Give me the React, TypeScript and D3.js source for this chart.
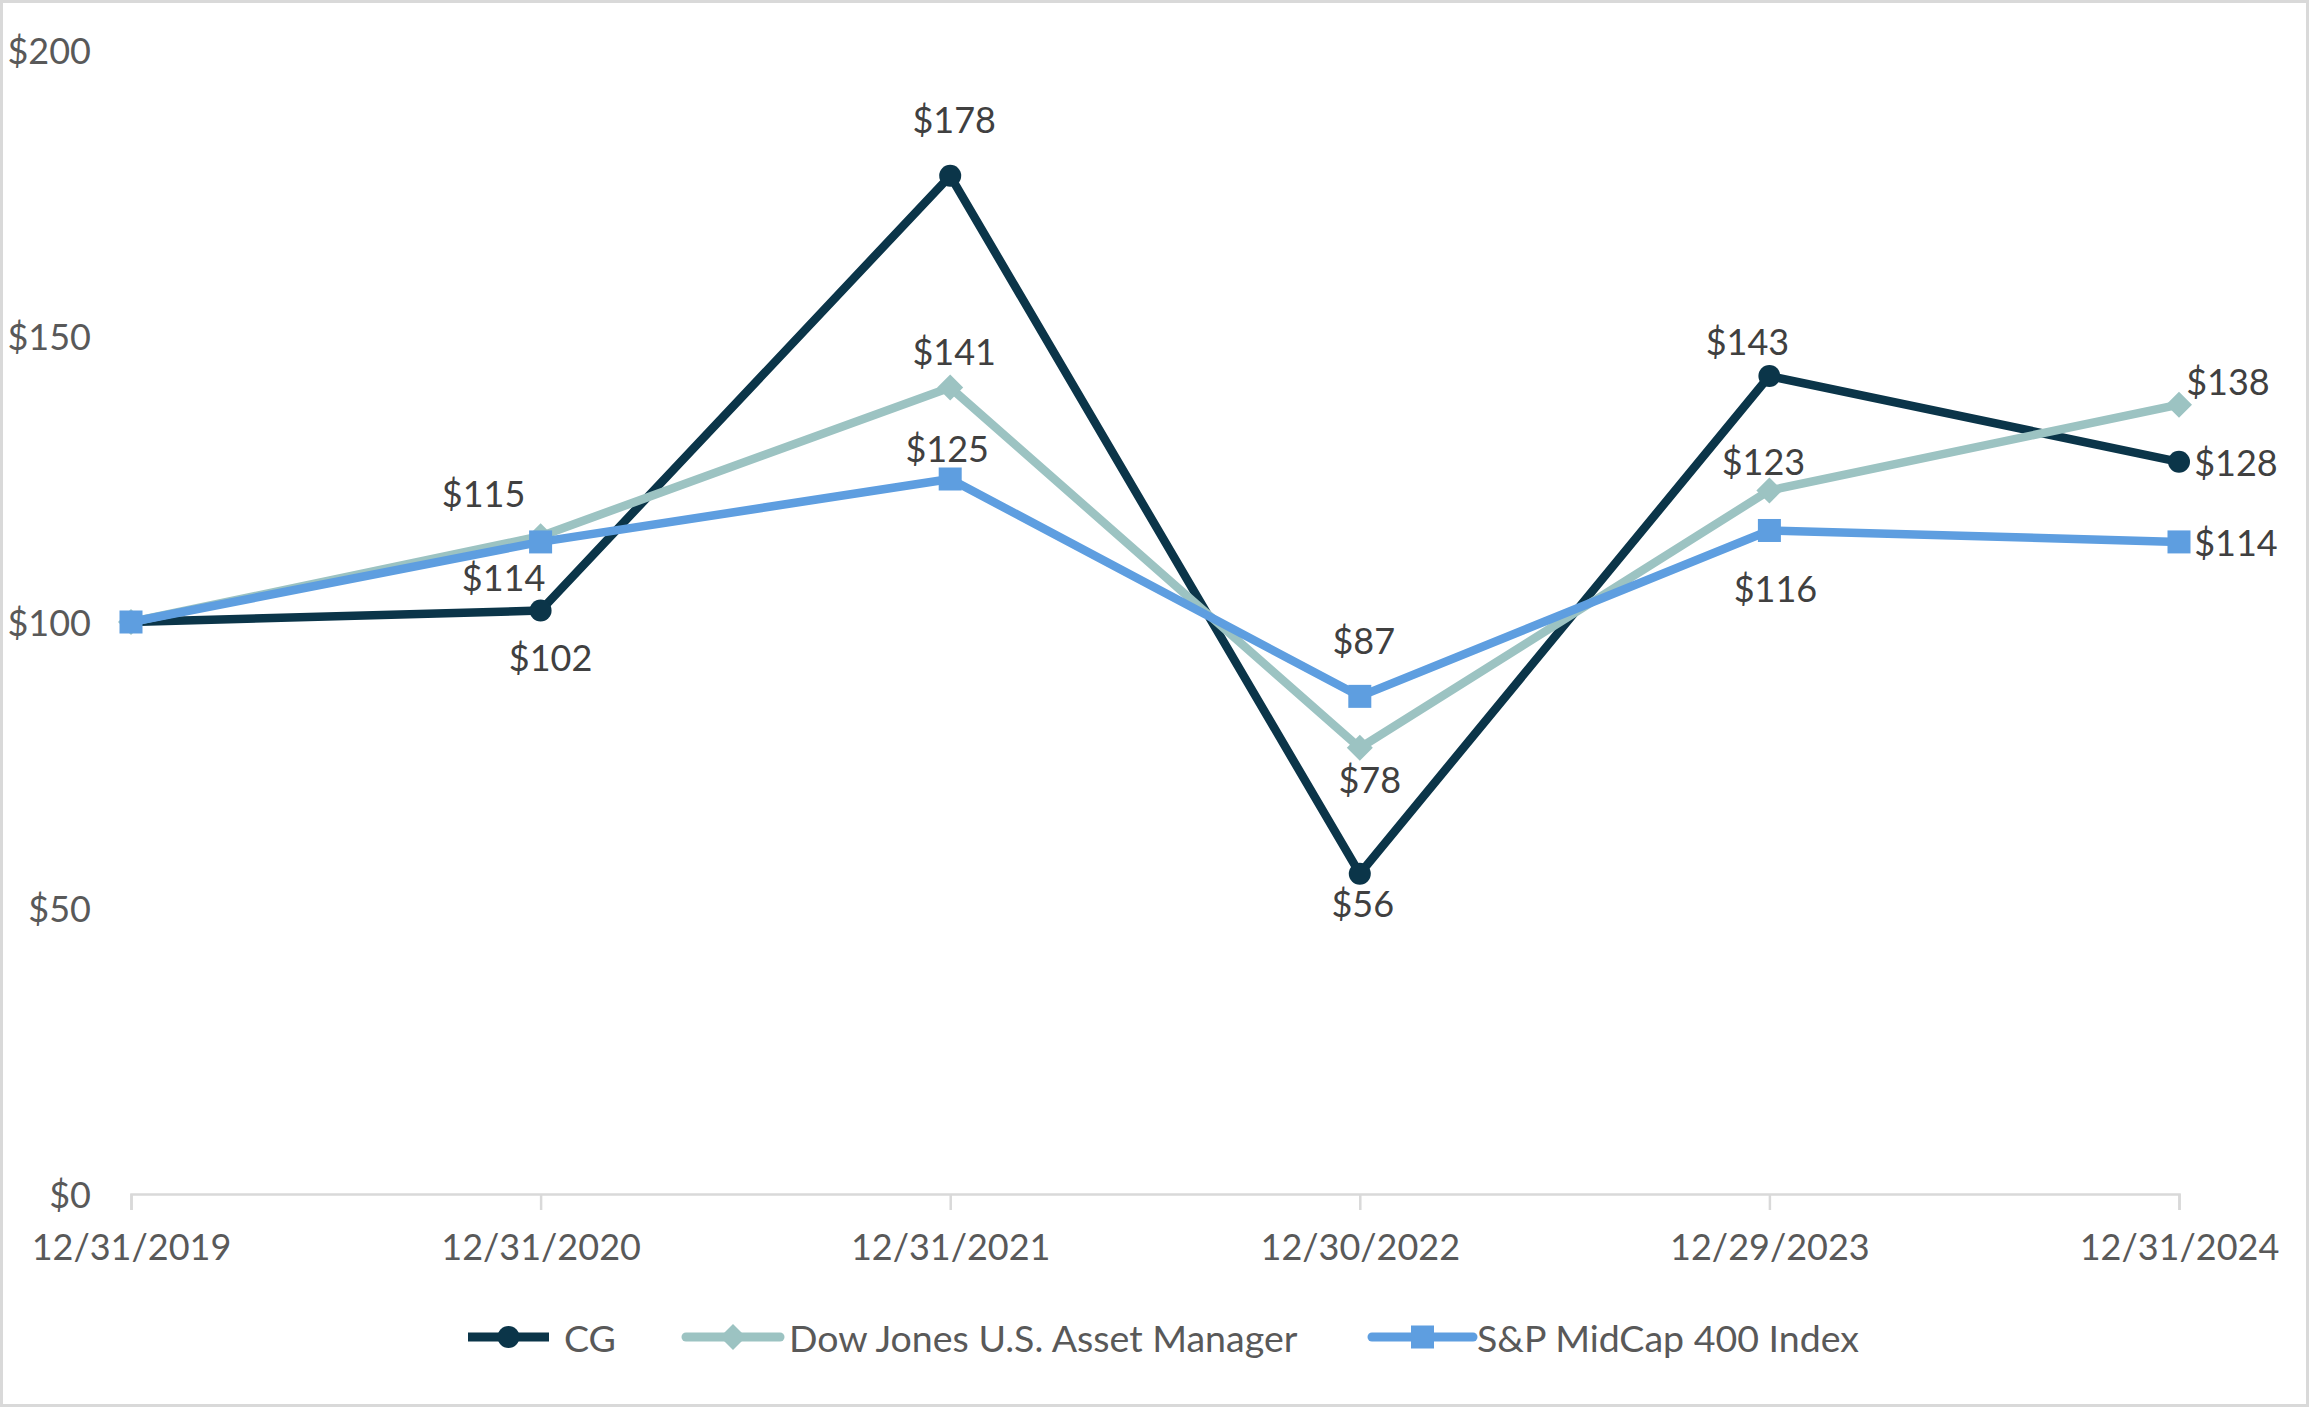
import React, { useEffect, useRef } from 'react';
import * as d3 from 'd3';

// Cumulative value of a $100 investment
const dates = ['12/31/2019', '12/31/2020', '12/31/2021', '12/30/2022', '12/29/2023', '12/31/2024'];
const cgValues = [100, 102, 178, 56, 143, 128];
const dowJonesValues = [100, 115, 141, 78, 123, 138];
const midCapValues = [100, 114, 125, 87, 116, 114];
const yTicks = [0, 50, 100, 150, 200];

// label nudges (px from the point), null = no label
const cgLabelNudge: ([number, number] | null)[] = [null, [10, 46], [4, -57], [3, 29], [-22, -35], [57, 0]];
const dowLabelNudge: ([number, number] | null)[] = [null, [-57, -43], [4, -36], [10, 31], [-6, -29], [49, -24]];
const midLabelNudge: ([number, number] | null)[] = [null, [-37, 35], [-3, -31], [4, -56], [6, 58], [57, 0]];

const W = 2309;
const H = 1407;
const FONT = 'Lato, "Open Sans", sans-serif';
const TEXT = '#595959';
const LABEL = '#404040';

const series = [
  { name: 'CG', values: cgValues, color: '#0B3549', marker: 'circle', nudge: cgLabelNudge },
  { name: 'Dow Jones U.S. Asset Manager', values: dowJonesValues, color: '#9CC3C2', marker: 'diamond', nudge: dowLabelNudge },
  { name: 'S&P MidCap 400 Index', values: midCapValues, color: '#5E9EE0', marker: 'square', nudge: midLabelNudge },
];

const App: React.FC = () => {
  const svgRef = useRef<SVGSVGElement>(null);

  useEffect(() => {
    document.body.style.margin = '0';
    if (!svgRef.current) return;
    const svg = d3.select(svgRef.current);
    svg.selectAll('*').remove();

    const x = d3.scalePoint<string>().domain(dates).range([131, 2179]);
    const y = d3.scaleLinear().domain([0, 200]).range([1194, 50]);

    // background + border
    svg.append('rect')
      .attr('x', 1.5).attr('y', 1.5)
      .attr('width', W - 3).attr('height', H - 3)
      .attr('fill', '#fff')
      .attr('stroke', '#d9d9d9')
      .attr('stroke-width', 3);

    // y tick labels (no gridlines)
    svg.append('g')
      .selectAll('text')
      .data(yTicks)
      .join('text')
      .attr('x', 91)
      .attr('y', d => y(d))
      .attr('text-anchor', 'end')
      .attr('dominant-baseline', 'central')
      .attr('font-family', FONT)
      .attr('font-size', 36)
      .attr('fill', TEXT)
      .text(d => `$${d}`);

    // x axis
    const xAxis = svg.append('g')
      .attr('transform', `translate(0,${y(0)})`)
      .call(d3.axisBottom(x).tickSize(16).tickPadding(24));
    xAxis.select('.domain').attr('stroke', '#d9d9d9').attr('stroke-width', 2.5);
    xAxis.selectAll('.tick line').attr('stroke', '#d9d9d9').attr('stroke-width', 2.5);
    xAxis.selectAll('.tick text')
      .attr('font-family', FONT)
      .attr('font-size', 36)
      .attr('fill', TEXT);

    const line = d3.line<number>()
      .x((_, i) => x(dates[i]) as number)
      .y(d => y(d));

    const drawMarker = (g: d3.Selection<SVGGElement, unknown, null, undefined>, type: string, cx: number, cy: number, color: string) => {
      if (type === 'circle') {
        g.append('circle').attr('cx', cx).attr('cy', cy).attr('r', 11).attr('fill', color);
      } else if (type === 'diamond') {
        g.append('path')
          .attr('d', `M${cx},${cy - 13} L${cx + 13},${cy} L${cx},${cy + 13} L${cx - 13},${cy} Z`)
          .attr('fill', color);
      } else {
        g.append('rect').attr('x', cx - 11.5).attr('y', cy - 11.5).attr('width', 23).attr('height', 23).attr('fill', color);
      }
    };

    series.forEach(s => {
      const g = svg.append('g');
      g.append('path')
        .datum(s.values)
        .attr('fill', 'none')
        .attr('stroke', s.color)
        .attr('stroke-width', 8.5)
        .attr('stroke-linejoin', 'round')
        .attr('d', line);
      s.values.forEach((v, i) => drawMarker(g, s.marker, x(dates[i]) as number, y(v), s.color));
    });

    // data labels
    series.forEach(s => {
      s.values.forEach((v, i) => {
        const n = s.nudge[i];
        if (!n) return;
        svg.append('text')
          .attr('x', (x(dates[i]) as number) + n[0])
          .attr('y', y(v) + n[1])
          .attr('text-anchor', 'middle')
          .attr('dominant-baseline', 'central')
          .attr('font-family', FONT)
          .attr('font-size', 36)
          .attr('fill', LABEL)
          .text(`$${v}`);
      });
    });

    // legend
    const legendY = 1337;
    const legendItems = [
      { x1: 468, x2: 549, tx: 564 },
      { x1: 686, x2: 780, tx: 789 },
      { x1: 1372, x2: 1473, tx: 1477 },
    ];
    series.forEach((s, i) => {
      const it = legendItems[i];
      const g = svg.append('g');
      g.append('line')
        .attr('x1', it.x1).attr('x2', it.x2)
        .attr('y1', legendY).attr('y2', legendY)
        .attr('stroke', s.color)
        .attr('stroke-width', 9)
        .attr('stroke-linecap', s.marker === 'circle' ? 'butt' : 'round');
      drawMarker(g, s.marker, (it.x1 + it.x2) / 2, legendY, s.color);
      g.append('text')
        .attr('x', it.tx)
        .attr('y', legendY)
        .attr('dominant-baseline', 'central')
        .attr('font-family', FONT)
        .attr('font-size', 37.5)
        .attr('fill', TEXT)
        .text(s.name);
    });
  }, []);

  return <svg ref={svgRef} width={W} height={H} style={{ display: 'block' }} />;
};

export default App;
